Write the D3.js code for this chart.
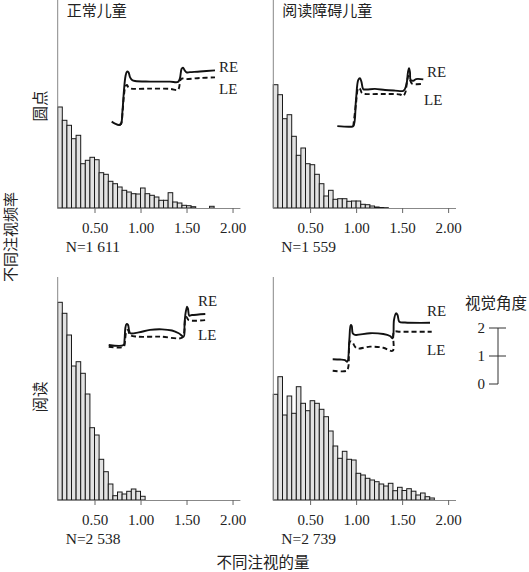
<!DOCTYPE html>
<html>
<head>
<meta charset="utf-8">
<script src="https://cdn.jsdelivr.net/npm/d3@7"></script>
<style>
	body { margin: 0; background: #fff; }
	svg { display: block; }
	.serif { font-family: "Liberation Serif", "DejaVu Serif", serif; }
	.cjk { font-family: "Noto Sans CJK SC", sans-serif; }
</style>
</head>
<body>
<div id="canvas"></div>
<script>
// histogram bins: first bin starts at 0.10, each bin 0.05 wide
var binStart = 0.10;
var binWidth = 0.05;

// relative fixation frequency per bin
var freqNormalDots = [101, 87.7, 82.7, 69.3, 72.7, 44.3, 47.7, 50.7, 48.3, 35.3, 33.7, 26.7, 24.3, 21, 17.7, 16, 14.3, 14, 20, 14.3, 12.7, 11, 7.7, 7.7, 15.3, 6, 5, 2.7, 2.3, 1.3, 0, 0, 0, 1.7];
var freqDyslexicDots = [123.3, 113.3, 89.3, 93.3, 71.7, 52.7, 60, 44.3, 43.3, 33.7, 24.3, 12, 17.7, 8.7, 9.3, 9.3, 6.7, 7, 7, 3.7, 3.3, 2, 1, 0.5, 0.3];
var freqNormalRead = [197.7, 186.7, 165, 134, 138.3, 126.7, 106, 72.3, 65, 40.7, 28.3, 16, 4.3, 8, 6, 8.7, 11, 8.7, 3.7];
var freqDyslexicRead = [105.7, 123.3, 85, 104, 86.7, 113.3, 96.7, 89.3, 99.3, 96.7, 90.7, 83.3, 69, 54, 41.7, 48.7, 40.7, 40, 26.7, 25, 21.7, 20, 18.3, 16, 14, 16.7, 9.3, 12.7, 9.5, 11.3, 8.8, 5, 7, 3.3, 2];

var groupLabels = ['正常儿童', '阅读障碍儿童'];
var taskLabels = ['圆点', '阅读'];
var sampleSizes = ['N=1 611', 'N=1 559', 'N=2 538', 'N=2 739'];
var xTicks = [0.5, 1.0, 1.5, 2.0];
var eyeLabels = ['RE', 'LE'];
var angleTicks = [0, 1, 2];
var angleTitle = '视觉角度';
var yTitle = '不同注视频率';
var xTitle = '不同注视的量';

// eye position traces: [time (% of trace), visual angle (deg)]
var reNormalDots = [[0, 0.12], [3.2, 0.05], [7.1, 0], [9, 0.04], [10.5, 0.54], [11.9, 1.25], [13.4, 1.75], [14.8, 1.91], [16.3, 1.88], [17.7, 1.71], [19.7, 1.61], [22.6, 1.57], [37.1, 1.55], [56.4, 1.55], [64.2, 1.54], [66.1, 1.68], [67.6, 2.0], [69, 2.05], [70.5, 1.96], [72.4, 1.88], [75.8, 1.89], [85.5, 1.91], [100, 1.95]];
var leNormalDots = [[7.1, 0], [9, 0.04], [10.5, 0.46], [11.9, 1.07], [13.4, 1.39], [14.8, 1.43], [16.3, 1.34], [18.7, 1.3], [37.1, 1.3], [56.4, 1.29], [63.7, 1.25], [65.1, 1.32], [66.6, 1.61], [68.1, 1.66], [70.9, 1.64], [85.5, 1.68], [100, 1.7]];
var reDyslexicDots = [[0, 0.02], [14.8, 0], [18.6, 0.02], [21.7, 0.95], [24.4, 1.67], [26.4, 1.73], [28.1, 1.6], [30.2, 1.34], [34.2, 1.33], [43.8, 1.35], [55.5, 1.31], [67.1, 1.29], [76.7, 1.28], [78.7, 1.35], [80.7, 1.55], [82.2, 1.95], [83.4, 2.09], [84.5, 1.95], [85.3, 1.67], [88.4, 1.64], [91.5, 1.7], [100, 1.69]];
var leDyslexicDots = [[18.6, 0.02], [21.7, 0.81], [24.4, 1.38], [26.4, 1.35], [28.7, 1.2], [32.2, 1.17], [55.5, 1.17], [72.9, 1.15], [76.7, 1.1], [79.3, 1.24], [81, 1.6], [82.8, 1.81], [84.5, 1.67], [86.9, 1.54], [100, 1.53]];
var reNormalRead = [[0, 0.06], [15.5, 0.06], [16.4, 0.24], [17.2, 0.66], [18.4, 0.81], [20, 0.78], [21, 0.6], [22.4, 0.48], [31.1, 0.51], [42.8, 0.6], [55.2, 0.62], [65.5, 0.58], [72.5, 0.48], [77.6, 0.36], [78.5, 0.78], [79.3, 1.13], [81.1, 1.43], [82.1, 1.35], [83.4, 1.11], [86.2, 1.13], [100, 1.17]];
var leNormalRead = [[0, 0], [15.5, 0], [16.9, 0.24], [18.4, 0.56], [20, 0.6], [22, 0.42], [29.3, 0.36], [53.1, 0.36], [75.9, 0.32], [78, 0.49], [79.3, 1.01], [80.5, 1.06], [82.8, 0.95], [100, 0.95]];
var reDyslexicRead = [[0, 0.41], [7.4, 0.4], [12.4, 0.38], [14.7, 0.32], [16.8, 1.1], [18.2, 1.63], [19.2, 1.6], [20.2, 1.34], [22.5, 1.28], [37.7, 1.34], [51.1, 1.31], [57.9, 1.24], [60.6, 1.16], [61.9, 1.81], [63.9, 2.05], [65.5, 1.99], [67.3, 1.75], [73, 1.72], [98.3, 1.71]];
var leDyslexicRead = [[0, 0], [14.1, 0], [15.8, 0.14], [17.5, 1.04], [19.5, 1.03], [24.2, 0.8], [37.7, 0.86], [51.1, 0.82], [60.6, 0.71], [61.9, 1.39], [68, 1.39], [100, 1.39]];

// layout
var W = 529, H = 572;
var colAxisX = [57.7, 273.3];
var axisLen = 182.2;
var rowBase = [208, 500];
var rowTop = [0, 277];
var pxPerDeg = 28;

var panels = [
	{ col: 0, row: 0, freq: freqNormalDots, n: sampleSizes[0], re: reNormalDots, le: leNormalDots,
		inset: { x: 111.7, w: 103.3, y0: 125 }, reLab: [219, 72], leLab: [219, 94] },
	{ col: 1, row: 0, freq: freqDyslexicDots, n: sampleSizes[1], re: reDyslexicDots, le: leDyslexicDots,
		inset: { x: 337.3, w: 86, y0: 126.7 }, reLab: [427, 77], leLab: [424, 105] },
	{ col: 0, row: 1, freq: freqNormalRead, n: sampleSizes[2], re: reNormalRead, le: leNormalRead,
		inset: { x: 108.7, w: 96.6, y0: 346.7 }, reLab: [198, 306], leLab: [198, 340] },
	{ col: 1, row: 1, freq: freqDyslexicRead, n: sampleSizes[3], re: reDyslexicRead, le: leDyslexicRead,
		inset: { x: 332.7, w: 99, y0: 370.7 }, reLab: [427, 316], leLab: [427, 355] }
];

var svg = d3.select('#canvas').append('svg')
	.attr('width', W)
	.attr('height', H);

panels.forEach(function(p) {
	var ax = colAxisX[p.col];
	var base = rowBase[p.row];
	var x = d3.scaleLinear().domain([0.1, 2.08]).range([ax, ax + axisLen]);
	var y = d3.scaleLinear().domain([0, 100]).range([base, base - 100]);
	var g = svg.append('g');

	// bars
	g.selectAll('rect.bar')
		.data(p.freq.map(function(v, i) { return { x0: binStart + i * binWidth, v: v }; })
			.filter(function(d) { return d.v > 0; }))
		.enter().append('rect')
		.attr('class', 'bar')
		.attr('x', function(d) { return x(d.x0); })
		.attr('width', function(d) { return x(d.x0 + binWidth) - x(d.x0); })
		.attr('y', function(d) { return y(d.v); })
		.attr('height', function(d) { return base - y(d.v); })
		.attr('fill', '#e2e2e2')
		.attr('stroke', '#1a1a1a')
		.attr('stroke-width', 1);

	// axes
	g.append('line')
		.attr('x1', ax).attr('x2', ax)
		.attr('y1', rowTop[p.row]).attr('y2', base)
		.attr('stroke', '#888').attr('stroke-width', 1);

	var xAxis = d3.axisBottom(x).tickValues(xTicks).tickFormat(d3.format('.2f')).tickSize(5).tickSizeOuter(0);
	var axG = g.append('g')
		.attr('transform', 'translate(0,' + base + ')')
		.call(xAxis);
	axG.select('.domain').attr('stroke', '#888');
	axG.selectAll('.tick line').attr('stroke', '#666');
	axG.selectAll('.tick text')
		.attr('class', 'serif')
		.attr('y', 13)
		.attr('dy', '0.8em')
		.style('font-size', '15px')
		.attr('fill', '#222')
		.attr('font-family', null);

	g.append('text')
		.attr('class', 'serif')
		.attr('x', ax + 8)
		.attr('y', base + 44)
		.style('font-size', '15.5px')
		.attr('fill', '#222')
		.text(p.n);

	// eye trace inset
	var tx = d3.scaleLinear().domain([0, 100]).range([p.inset.x, p.inset.x + p.inset.w]);
	var ty = d3.scaleLinear().domain([0, 1]).range([p.inset.y0, p.inset.y0 - pxPerDeg]);
	var line = d3.line()
		.x(function(d) { return tx(d[0]); })
		.y(function(d) { return ty(d[1]); })
		.curve(d3.curveCatmullRom.alpha(0.5));

	g.append('path')
		.attr('d', line(p.le))
		.attr('fill', 'none')
		.attr('stroke', '#111')
		.attr('stroke-width', 1.9)
		.attr('stroke-dasharray', '5,3');
	g.append('path')
		.attr('d', line(p.re))
		.attr('fill', 'none')
		.attr('stroke', '#111')
		.attr('stroke-width', 1.9);

	[p.reLab, p.leLab].forEach(function(pos, i) {
		g.append('text')
			.attr('class', 'serif')
			.attr('x', pos[0])
			.attr('y', pos[1])
			.style('font-size', '15px')
			.attr('fill', '#222')
			.text(eyeLabels[i]);
	});
});

// column titles
groupLabels.forEach(function(t, i) {
	svg.append('text')
		.attr('class', 'cjk')
		.attr('x', colAxisX[i] + 9)
		.attr('y', 16)
		.style('font-size', '15px')
		.attr('fill', '#222')
		.text(t);
});

// row titles
var rowMid = [106, 397];
taskLabels.forEach(function(t, i) {
	svg.append('text')
		.attr('class', 'cjk')
		.attr('transform', 'translate(46,' + rowMid[i] + ') rotate(-90)')
		.attr('text-anchor', 'middle')
		.style('font-size', '15.5px')
		.attr('fill', '#222')
		.text(t);
});

svg.append('text')
	.attr('class', 'cjk')
	.attr('transform', 'translate(16,237) rotate(-90)')
	.attr('text-anchor', 'middle')
	.style('font-size', '15px')
	.attr('fill', '#222')
	.text(yTitle);

svg.append('text')
	.attr('class', 'cjk')
	.attr('x', 263)
	.attr('y', 568)
	.attr('text-anchor', 'middle')
	.style('font-size', '15.5px')
	.attr('fill', '#222')
	.text(xTitle);

// visual angle scale bar
var angle = d3.scaleLinear().domain([0, 2]).range([384, 328]);
var sb = svg.append('g');
sb.append('line')
	.attr('x1', 498).attr('x2', 498)
	.attr('y1', angle(2)).attr('y2', angle(0))
	.attr('stroke', '#333').attr('stroke-width', 1);
sb.selectAll('line.tk')
	.data(angleTicks)
	.enter().append('line')
	.attr('class', 'tk')
	.attr('x1', 489)
	.attr('x2', function(d) { return d === 0 ? 498 : 506; })
	.attr('y1', function(d) { return angle(d); })
	.attr('y2', function(d) { return angle(d); })
	.attr('stroke', '#333').attr('stroke-width', 1);
sb.selectAll('text.tl')
	.data(angleTicks)
	.enter().append('text')
	.attr('class', 'tl serif')
	.attr('x', 485)
	.attr('y', function(d) { return angle(d); })
	.attr('dy', '0.35em')
	.attr('text-anchor', 'end')
	.style('font-size', '15px')
	.attr('fill', '#222')
	.text(function(d) { return d; });
sb.append('text')
	.attr('class', 'cjk')
	.attr('x', 465)
	.attr('y', 309)
	.style('font-size', '15.5px')
	.attr('fill', '#222')
	.text(angleTitle);
</script>
</body>
</html>
